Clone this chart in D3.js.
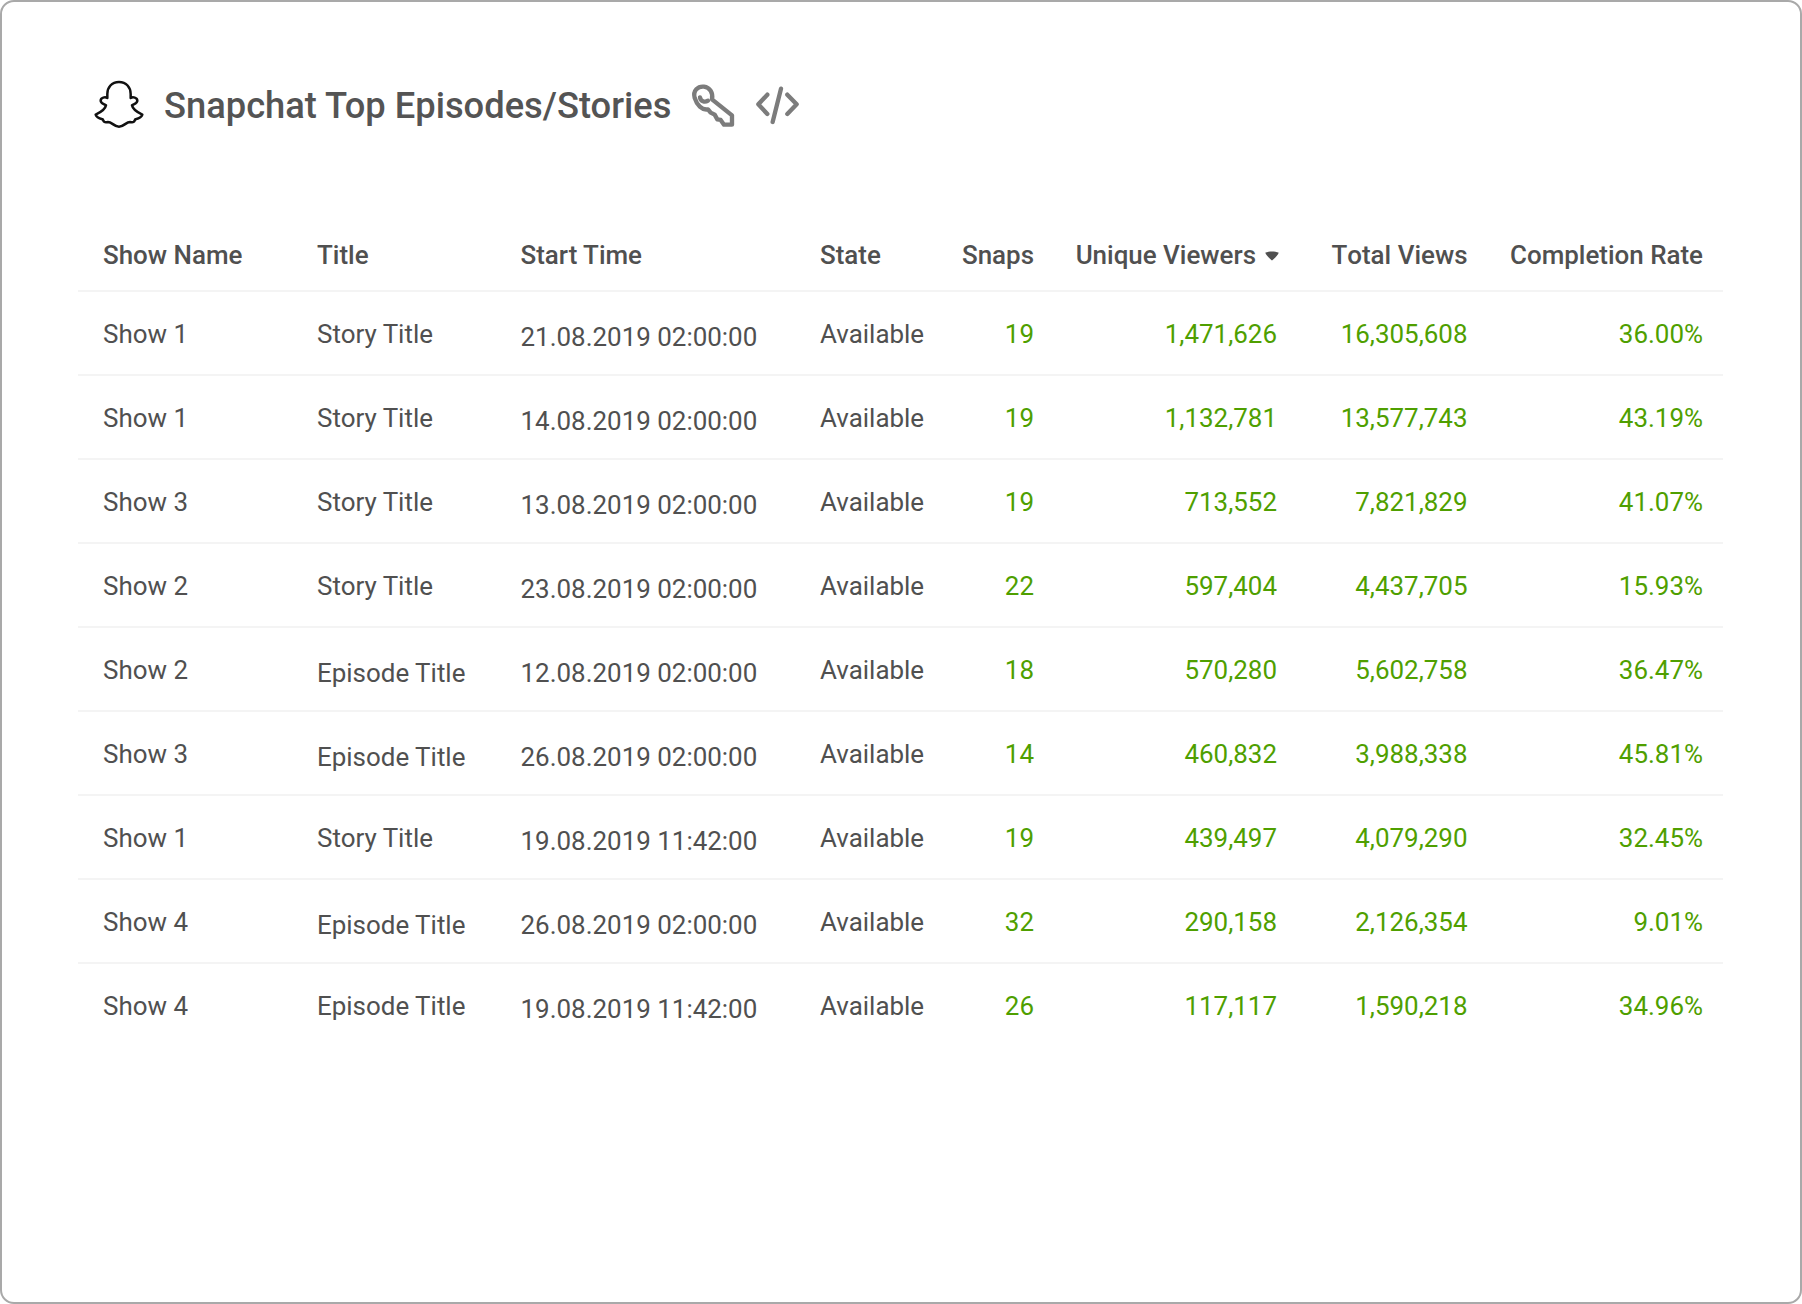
<!DOCTYPE html>
<html><head><meta charset="utf-8">
<script src="https://cdn.jsdelivr.net/npm/d3@7/dist/d3.min.js"></script>
<style>html,body{margin:0;padding:0;background:#fff}svg{display:block}text{font-family:Roboto,sans-serif}</style>
</head><body><div id="c"></div>
<script>
const title = "Snapchat Top Episodes/Stories";
const columns = ["Show Name","Title","Start Time","State","Snaps","Unique Viewers","Total Views","Completion Rate"];
const showNames = ["Show 1","Show 1","Show 3","Show 2","Show 2","Show 3","Show 1","Show 4","Show 4"];
const titles = ["Story Title","Story Title","Story Title","Story Title","Episode Title","Episode Title","Story Title","Episode Title","Episode Title"];
const startTimes = ["21.08.2019 02:00:00","14.08.2019 02:00:00","13.08.2019 02:00:00","23.08.2019 02:00:00","12.08.2019 02:00:00","26.08.2019 02:00:00","19.08.2019 11:42:00","26.08.2019 02:00:00","19.08.2019 11:42:00"];
const states = ["Available","Available","Available","Available","Available","Available","Available","Available","Available"];
const snaps = [19,19,19,22,18,14,19,32,26];
const uniqueViewers = [1471626,1132781,713552,597404,570280,460832,439497,290158,117117];
const totalViews = [16305608,13577743,7821829,4437705,5602758,3988338,4079290,2126354,1590218];
const completionRate = [36.00,43.19,41.07,15.93,36.47,45.81,32.45,9.01,34.96];

const W=1802,H=1304;
const svg=d3.select("#c").append("svg").attr("width",W).attr("height",H);
svg.append("rect").attr("x",1).attr("y",1).attr("width",W-2).attr("height",H-2).attr("rx",13)
  .attr("fill","#fff").attr("stroke","#a9a9a9").attr("stroke-width",2);

const INK="#505050", GREEN="#4f9f00", RULE="#f1f1f1";
const FS=25.95;
const colX=d3.scaleOrdinal().domain(columns).range([103,317,520.5,820,1034,1277,1467.5,1703]);
const anchor=d3.scaleOrdinal().domain(columns).range(["start","start","start","start","end","end","end","end"]);
const rowY=d3.scaleBand().domain(d3.range(showNames.length)).range([291,291+84*9]);
const fmt=d3.format(",");
const cellText=[showNames,titles,startTimes,states,snaps,uniqueViewers.map(fmt),totalViews.map(fmt),completionRate.map(v=>d3.format(".2f")(v)+"%")];

// title
svg.append("text").attr("x",164).attr("y",118).attr("font-size",36.3).attr("font-weight",500).attr("fill","#545454").text(title);

// icons
svg.append("path").attr("transform","translate(80,70) scale(0.3333)")
 .attr("d","M117 36C95 36 82 52 82 72L82 84C76 80 62 82 62 92C62 100 72 102 78 106C76 118 60 128 47 134C50 144 60 146 68 148C72 156 72 158 84 156C96 156 102 170 117 170C132 170 138 156 150 156C162 158 162 156 166 148C174 146 184 144 187 134C174 128 158 118 156 106C162 102 172 100 172 92C172 82 158 80 152 84L152 72C152 52 139 36 117 36Z")
 .attr("fill","none").attr("stroke","#111").attr("stroke-width",7.5).attr("stroke-linejoin","round");
const ic=svg.append("g").attr("transform","translate(680,70) scale(0.3333)").attr("fill","none").attr("stroke","#7c7c7c").attr("stroke-width",13).attr("stroke-linejoin","round").attr("stroke-linecap","round");
ic.append("path").attr("d","M44 84C38 62 54 48 72 50C90 52 100 70 96 88L156 136L156 164L132 164L122 150L112 148L104 134L92 128L84 118C66 122 50 104 44 84Z");
ic.append("path").attr("d","M60 82C62 94 74 98 84 92");
ic.append("path").attr("d","M262 74L235 103L262 132M303 56L278 156M322 74L350 103L322 132");

// header
const hdrBase=264;
svg.selectAll("text.h").data(columns).join("text").attr("class","h")
 .attr("x",d=>d==="Unique Viewers"?1256:colX(d)).attr("y",hdrBase)
 .attr("text-anchor",anchor).attr("font-size",FS).attr("font-weight",500).attr("fill",INK)
 .style("font-kerning",d=>d==="Total Views"?"none":null).text(d=>d);
svg.append("path").attr("transform","translate(1272,256)").attr("d","M-6.5 -3.5C-3 -5 3 -5 6.5 -3.5C7 -2 3 2 0 4.5C-3 2 -7 -2 -6.5 -3.5Z").attr("fill",INK);

// rules
const ruleYs=d3.range(showNames.length).map(i=>rowY(i));
svg.selectAll("line.r").data(ruleYs).join("line").attr("class","r").attr("x1",78).attr("x2",1723)
 .attr("y1",d=>d).attr("y2",d=>d).attr("stroke",RULE).attr("stroke-width",1.5);

// cells
const g=svg.selectAll("g.row").data(d3.range(showNames.length)).join("g").attr("class","row");
g.each(function(r){
  const row=d3.select(this);
  columns.forEach((c,ci)=>{
    let dy=0;
    if(c==="Start Time") dy=3;
    if(c==="Title" && cellText[1][r]==="Episode Title" && r<8) dy=3;
    row.append("text").attr("x",colX(c)).attr("y",rowY(r)+52+dy).attr("text-anchor",anchor(c))
      .attr("font-size",FS).attr("fill",ci>=4?GREEN:INK).text(cellText[ci][r]);
  });
});
</script></body></html>
